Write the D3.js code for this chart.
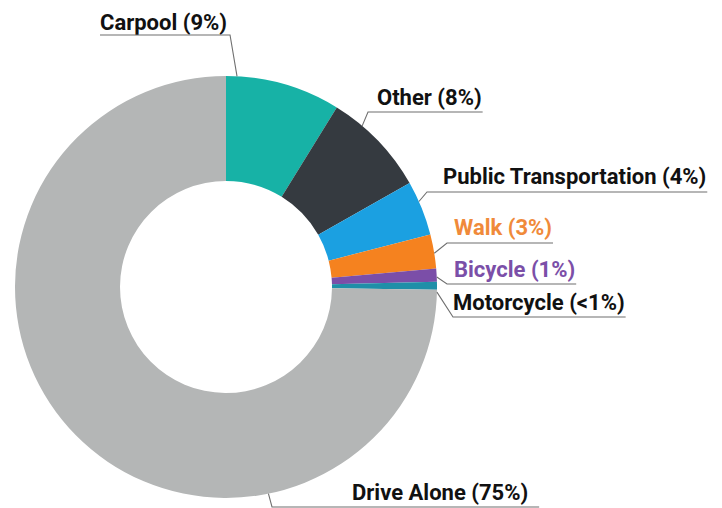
<!DOCTYPE html>
<html>
<head>
<meta charset="utf-8">
<script src="https://cdn.jsdelivr.net/npm/d3@7"></script>
<style>
  body { margin: 0; background: #fff; }
  svg { display: block; }
  .lbl { font-family: Roboto, "Noto Sans", sans-serif; font-weight: 700; font-size: 22px; }
</style>
</head>
<body>
<div id="chart"></div>
<script>
// commute mode shares (clockwise from 12 o'clock)
const modes = ["Carpool", "Other", "Public Transportation", "Walk", "Bicycle", "Motorcycle", "Drive Alone"];
const shares = [8.8, 8.0, 4.2, 2.6, 1.0, 0.6, 74.8];
const shareLabels = ["9%", "8%", "4%", "3%", "1%", "<1%", "75%"];

const colors = ["#17b2a6", "#353a40", "#1ba0e1", "#f5821f", "#7b4ea8", "#1f8fa8", "#b4b6b6"];
const textColors = ["#111", "#111", "#111", "#f08a3a", "#7b4fa8", "#111", "#111"];

const width = 722, height = 508;
const cx = 226, cy = 287, outerR = 211, innerR = 106;

// label layout: text x / baseline, underline y, leader end angle (deg) on outer edge, side the leader leaves from
const labelPos = [
  {x: 100, y: 30, uy: 35, ang: 3.0, from: "right"},
  {x: 377, y: 105, uy: 112, ang: 40.2, from: "left", ux: 368},
  {x: 443, y: 184, uy: 192, ang: 66.1, from: "left", ux: 427},
  {x: 454, y: 235, uy: 243, ang: 80.8, from: "left", ux: 447},
  {x: 454, y: 277, uy: 284, ang: 87.3, from: "left", ux: 447},
  {x: 453, y: 310, uy: 317, ang: 91.4, from: "left", ux: 453},
  {x: 352, y: 500, uy: 507, ang: 168.4, from: "left", ux: 272, extra: 10}
];

const data = modes.map((m, i) => ({mode: m, value: shares[i], label: shareLabels[i], i: i}));

const svg = d3.select("#chart").append("svg")
    .attr("width", width)
    .attr("height", height);

const pie = d3.pie().sort(null).value(d => d.value);
const arc = d3.arc().innerRadius(innerR).outerRadius(outerR);

const g = svg.append("g").attr("transform", "translate(" + cx + "," + cy + ")");

g.selectAll("path")
    .data(pie(data))
    .enter()
    .append("path")
    .attr("d", arc)
    .attr("fill", d => colors[d.data.i]);

// labels with leader lines
const labels = svg.append("g");
data.forEach((d, i) => {
    let p = labelPos[i];
    let t = labels.append("text")
        .attr("class", "lbl")
        .attr("x", p.x)
        .attr("y", p.y)
        .attr("fill", textColors[i])
        .text(d.mode + " (" + d.label + ")");
    let bb = t.node().getBBox();
    let a = p.ang * Math.PI / 180;
    let ex = cx + outerR * Math.sin(a), ey = cy - outerR * Math.cos(a);
    let pts;
    if (p.from === "right") {
        let rx = bb.x + bb.width + 3;
        pts = [[p.x, p.uy], [rx, p.uy], [ex, ey]];
    } else {
        pts = [[bb.x + bb.width + 1 + (p.extra || 0), p.uy], [p.ux, p.uy], [ex, ey]];
    }
    labels.append("path")
        .attr("d", d3.line()(pts))
        .attr("fill", "none")
        .attr("stroke", "#6f6f6f")
        .attr("stroke-width", 1.1);
});
</script>
</body>
</html>
